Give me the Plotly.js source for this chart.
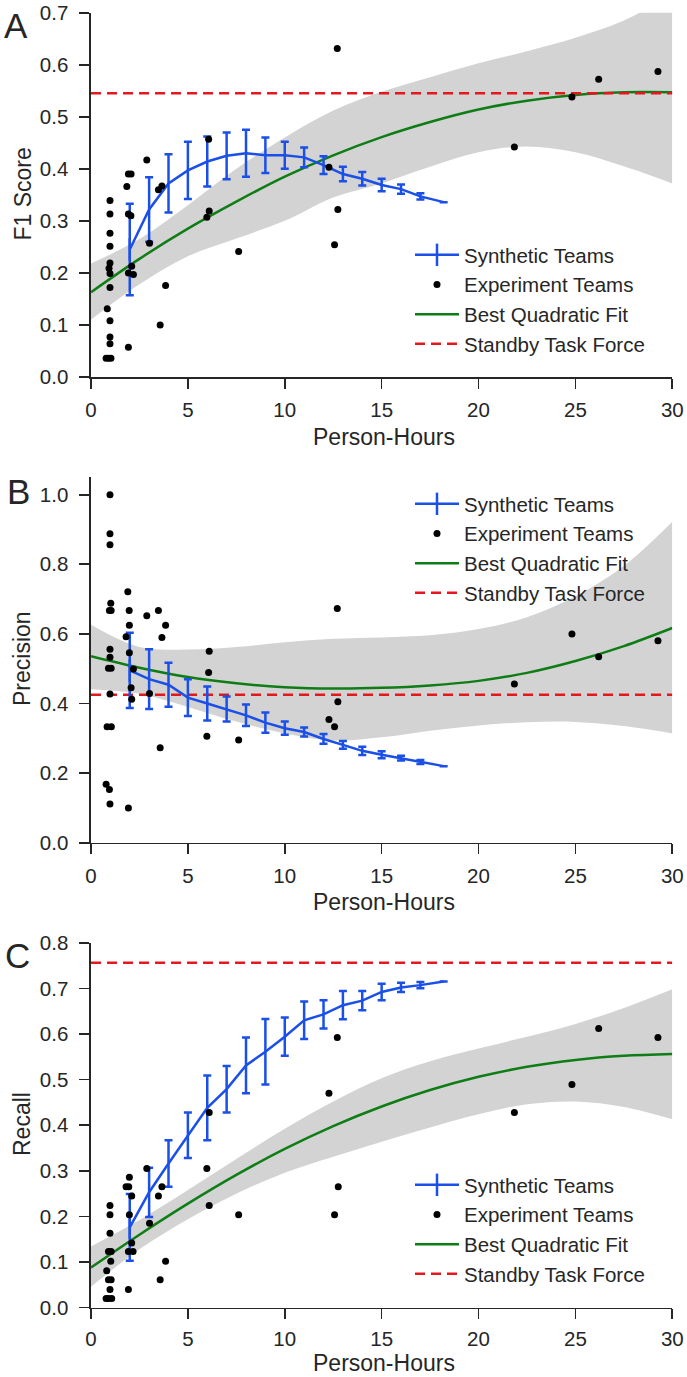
<!DOCTYPE html>
<html>
<head>
<meta charset="utf-8">
<script src="https://cdn.plot.ly/plotly-3.0.1.min.js"></script>
<style>html,body{margin:0;padding:0;background:#fff;}#chart{width:687px;height:1377px;}</style>
</head>
<body>
<div id="chart"></div>
<script>
// ---------- data ----------
const synX = [2, 3, 4, 5, 6, 7, 8, 9, 10, 11, 12, 13, 14, 15, 16, 17, 18.2];
const synA = [0.245, 0.322, 0.372, 0.397, 0.414, 0.425, 0.430, 0.426, 0.426, 0.422, 0.407, 0.390, 0.381, 0.369, 0.361, 0.347, 0.336];
const errA = [0.088, 0.062, 0.056, 0.055, 0.048, 0.045, 0.045, 0.034, 0.026, 0.019, 0.017, 0.014, 0.013, 0.012, 0.009, 0.006, 0.0];
const synB = [0.495, 0.470, 0.454, 0.417, 0.400, 0.384, 0.366, 0.345, 0.329, 0.318, 0.298, 0.281, 0.264, 0.253, 0.243, 0.232, 0.220];
const errB = [0.108, 0.086, 0.063, 0.053, 0.049, 0.036, 0.031, 0.029, 0.019, 0.013, 0.014, 0.011, 0.012, 0.010, 0.007, 0.006, 0.0];
const synC = [0.176, 0.253, 0.316, 0.378, 0.438, 0.479, 0.531, 0.561, 0.594, 0.630, 0.643, 0.663, 0.673, 0.692, 0.702, 0.707, 0.715];
const errC = [0.073, 0.054, 0.051, 0.050, 0.071, 0.051, 0.061, 0.072, 0.042, 0.041, 0.031, 0.031, 0.021, 0.018, 0.010, 0.007, 0.0];

const expXA = [0.98, 0.98, 0.98, 0.98, 0.98, 0.93, 0.98, 0.98, 0.84, 0.98, 0.98, 0.98, 0.78, 0.9, 1.03,
  1.93, 2.07, 1.85, 1.93, 2.06, 1.93, 2.1, 2.19, 1.93,
  2.88, 3.02, 3.48, 3.66, 3.85, 3.57, 6.07, 6.1, 5.98, 7.62,
  12.28, 12.71, 12.74, 12.57, 21.85, 24.82, 26.2, 29.26];
const expYA = [0.339, 0.313, 0.276, 0.251, 0.219, 0.209, 0.199, 0.172, 0.131, 0.108, 0.077, 0.064, 0.036, 0.036, 0.036,
  0.390, 0.390, 0.366, 0.313, 0.310, 0.200, 0.213, 0.197, 0.057,
  0.417, 0.257, 0.360, 0.367, 0.176, 0.100, 0.457, 0.319, 0.307, 0.241,
  0.403, 0.631, 0.322, 0.254, 0.442, 0.538, 0.572, 0.587];

const expXB = [0.98, 0.98, 0.98, 1.02, 0.95, 1.04, 0.98, 0.98, 0.9, 1.04, 0.98, 0.83, 1.05, 0.78, 0.95, 0.98,
  1.9, 1.97, 1.98, 1.81, 1.98, 2.19, 2.07, 2.1, 1.93,
  2.88, 3.02, 3.48, 3.85, 3.66, 3.57, 6.1, 6.07, 5.98, 7.62,
  12.71, 12.74, 12.28, 12.57, 21.85, 24.82, 26.2, 29.26];
const expYB = [1.0, 0.888, 0.856, 0.688, 0.667, 0.667, 0.556, 0.533, 0.501, 0.501, 0.427, 0.333, 0.333, 0.168, 0.153, 0.111,
  0.721, 0.667, 0.625, 0.592, 0.546, 0.499, 0.445, 0.412, 0.100,
  0.652, 0.429, 0.667, 0.625, 0.590, 0.273, 0.550, 0.489, 0.306, 0.295,
  0.673, 0.405, 0.354, 0.333, 0.456, 0.600, 0.534, 0.580];

const expXC = [0.98, 0.98, 0.98, 0.9, 1.04, 1.02, 0.81, 0.9, 1.04, 0.98, 0.78, 0.9, 1.07,
  1.98, 1.81, 1.95, 2.1, 1.98, 2.1, 1.93, 2.17, 1.93,
  2.88, 3.02, 3.66, 3.48, 3.85, 3.57, 6.1, 5.98, 6.1, 7.62,
  12.28, 12.71, 12.76, 12.57, 21.85, 24.82, 26.2, 29.26];
const expYC = [0.224, 0.204, 0.163, 0.123, 0.123, 0.102, 0.081, 0.061, 0.061, 0.040, 0.020, 0.020, 0.020,
  0.286, 0.265, 0.265, 0.245, 0.204, 0.142, 0.123, 0.123, 0.040,
  0.305, 0.185, 0.265, 0.245, 0.102, 0.061, 0.428, 0.305, 0.224, 0.204,
  0.470, 0.592, 0.265, 0.204, 0.428, 0.489, 0.612, 0.592];

const fitX = [0, 2.5, 5, 7.5, 10, 12.5, 15, 17.5, 20, 22.5, 25, 27.5, 30];
const fitA = [0.163, 0.227, 0.285, 0.337, 0.385, 0.426, 0.461, 0.490, 0.514, 0.531, 0.542, 0.547, 0.547];
const upA  = [0.218, 0.265, 0.330, 0.400, 0.460, 0.512, 0.548, 0.576, 0.603, 0.626, 0.652, 0.685, 0.735];
const loA  = [0.110, 0.178, 0.232, 0.266, 0.300, 0.345, 0.372, 0.404, 0.432, 0.443, 0.432, 0.405, 0.372];
const fitB = [0.536, 0.503, 0.476, 0.458, 0.447, 0.443, 0.445, 0.452, 0.465, 0.488, 0.522, 0.565, 0.617];
const upB  = [0.626, 0.562, 0.555, 0.562, 0.576, 0.586, 0.590, 0.596, 0.614, 0.648, 0.708, 0.795, 0.922];
const loB  = [0.441, 0.428, 0.390, 0.348, 0.314, 0.294, 0.303, 0.322, 0.337, 0.346, 0.347, 0.335, 0.314];
const fitC = [0.088, 0.160, 0.228, 0.291, 0.348, 0.398, 0.441, 0.477, 0.506, 0.528, 0.543, 0.552, 0.556];
const upC  = [0.134, 0.192, 0.258, 0.326, 0.392, 0.452, 0.503, 0.540, 0.568, 0.594, 0.622, 0.657, 0.698];
const loC  = [0.046, 0.128, 0.194, 0.250, 0.296, 0.331, 0.364, 0.395, 0.424, 0.446, 0.452, 0.440, 0.413];

const standbyX = [0, 30];
const standbyA = 0.545, standbyB = 0.425, standbyC = 0.756;

const xTicks = [0, 5, 10, 15, 20, 25, 30];

// ---------- style ----------
const BLUE = '#1a4fe8', GREEN = '#0f7d16', RED = '#e3181c', GRAY = '#d3d3d3', INK = '#262626';
const FONT = 'Liberation Sans, Arial, sans-serif';
const W = 687, H = 1377;
const px = v => v / W, py = v => 1 - v / H;

function panel(n, syn, err, ex, ey, fit, up, lo, standby) {
  const xa = n === 1 ? 'x' : 'x' + n, ya = n === 1 ? 'y' : 'y' + n;
  const lg = n === 1 ? 'legend' : 'legend' + n;
  const base = {xaxis: xa, yaxis: ya, legend: lg, hoverinfo: 'skip'};
  const mcol = syn.map((v, i) => i === 0 ? BLUE : 'rgba(0,0,0,0)');
  return [
    Object.assign({}, base, {x: fitX, y: lo, mode: 'lines', line: {width: 0, color: 'rgba(0,0,0,0)', shape: 'spline'}, showlegend: false}),
    Object.assign({}, base, {x: fitX, y: up, mode: 'lines', fill: 'tonexty', fillcolor: GRAY, line: {width: 0, color: 'rgba(0,0,0,0)', shape: 'spline'}, showlegend: false}),
    Object.assign({}, base, {x: fitX, y: fit, mode: 'lines', name: 'Best Quadratic Fit', legendrank: 3, line: {color: GREEN, width: 2.5, shape: 'spline'}}),
    Object.assign({}, base, {x: standbyX, y: standbyX.map(() => standby), mode: 'lines', name: 'Standby Task Force', legendrank: 4, line: {color: RED, width: 2.5, dash: '10px,6px'}}),
    Object.assign({}, base, {x: synX, y: syn, mode: 'lines+markers', name: 'Synthetic Teams', legendrank: 1,
      line: {color: BLUE, width: 2.5},
      marker: {symbol: 'line-ns-open', size: 16, color: mcol, line: {width: 2.5}},
      error_y: {type: 'data', array: err, visible: true, color: BLUE, thickness: 2.5, width: 4}}),
    Object.assign({}, base, {x: ex, y: ey, mode: 'markers', name: 'Experiment Teams', legendrank: 2, marker: {color: '#000', size: 7}})
  ];
}

const data = [].concat(
  panel(1, synA, errA, expXA, expYA, fitA, upA, loA, standbyA),
  panel(2, synB, errB, expXB, expYB, fitB, upB, loB, standbyB),
  panel(3, synC, errC, expXC, expYC, fitC, upC, loC, standbyC)
);

const xDom = [px(91), px(672.3)];
function xAxis(anchor, standoff) {
  return {domain: xDom, anchor: anchor, range: [0, 30], tickvals: xTicks, ticktext: xTicks.map(String),
    showline: true, linecolor: INK, linewidth: 1.6, ticks: 'outside', ticklen: 10, tickwidth: 1.6, tickcolor: INK,
    showgrid: false, zeroline: false, tickfont: {size: 20.5, color: INK, family: FONT}, ticklabelstandoff: standoff, fixedrange: true};
}
function yAxis(anchor, dom, range, dtick) {
  return {domain: dom, anchor: anchor, range: range, dtick: dtick, tick0: 0, tickformat: '.1f',
    showline: true, linecolor: INK, linewidth: 1.6, ticks: 'outside', ticklen: 10, tickwidth: 1.6, tickcolor: INK,
    showgrid: false, zeroline: false, tickfont: {size: 20.5, color: INK, family: FONT}, ticklabelstandoff: 7, fixedrange: true};
}
function legendAt(xLeft, yTop) {
  return {x: px(xLeft), y: py(yTop), xanchor: 'left', yanchor: 'top', bgcolor: 'rgba(0,0,0,0)', borderwidth: 0,
    font: {size: 20.5, color: INK, family: FONT}, traceorder: 'normal', itemwidth: 44, itemclick: false, itemdoubleclick: false};
}

const ann = [];
function addText(text, x, y, size, angle, anchorY) {
  ann.push({text: text, xref: 'paper', yref: 'paper', x: px(x), y: py(y), xanchor: 'center', yanchor: anchorY || 'middle',
    showarrow: false, borderpad: 0, textangle: angle || 0, font: {size: size, color: INK, family: FONT}});
}
addText('A', 16, 25, 35); addText('B', 18.5, 491, 35); addText('C', 17.5, 955, 35);
addText('F1 Score', 22, 194.5, 23, -90);
addText('Precision', 22, 659, 23, -90);
addText('Recall', 22, 1124, 23, -90);
addText('Person-Hours', 384, 437, 23);
addText('Person-Hours', 384, 902, 23);
addText('Person-Hours', 384, 1377, 23, 0, 'bottom');

const layout = {
  width: W, height: H, margin: {l: 0, r: 0, t: 0, b: 0}, paper_bgcolor: '#fff', plot_bgcolor: '#fff',
  font: {family: FONT, color: INK},
  xaxis: xAxis('y', 4), xaxis2: xAxis('y2', 4), xaxis3: xAxis('y3', 2),
  yaxis: yAxis('x', [py(377), py(12.7)], [0, 0.7], 0.1),
  yaxis2: yAxis('x2', [py(842.7), py(477.3)], [0, 1.05], 0.2),
  yaxis3: yAxis('x3', [py(1307.7), py(942.7)], [0, 0.8], 0.1),
  legend: legendAt(410, 235), legend2: legendAt(410, 484), legend3: legendAt(410, 1165),
  annotations: ann, showlegend: true
};

Plotly.newPlot('chart', data, layout, {displayModeBar: false, staticPlot: true});
</script>
</body>
</html>
